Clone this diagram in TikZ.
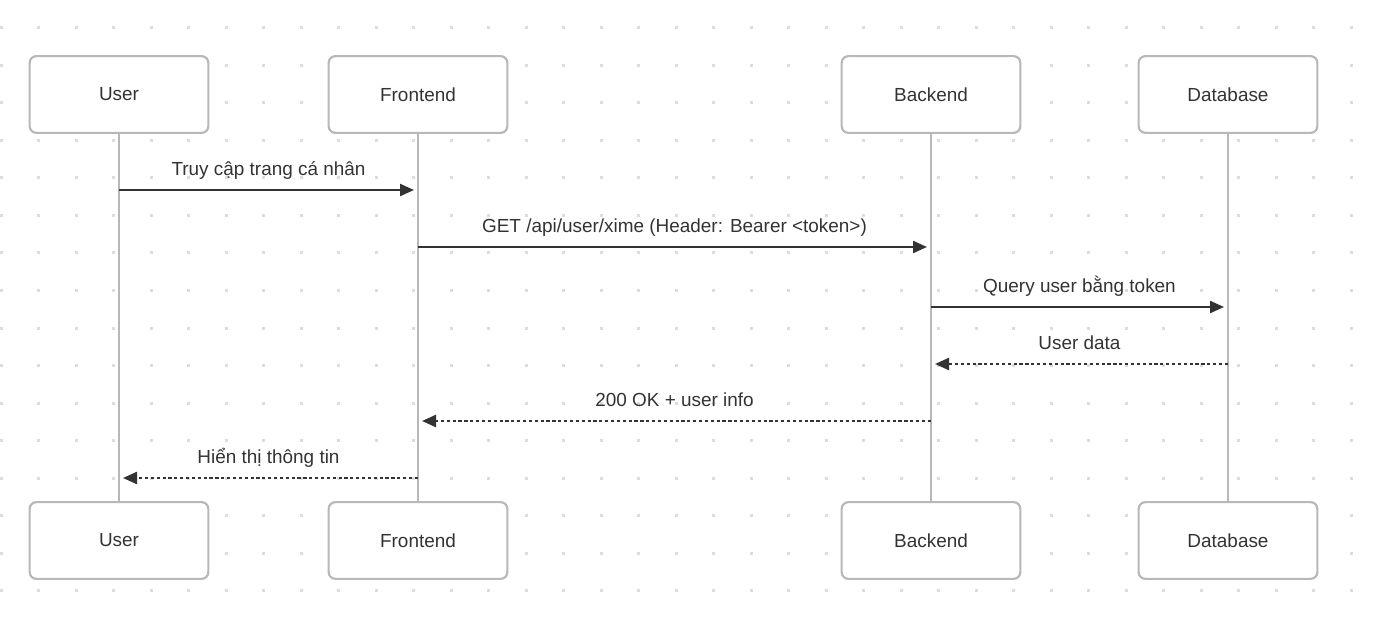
\documentclass[tikz,border=0pt]{standalone}
\usepackage{fontspec}
\setmainfont{Liberation Sans}
\usetikzlibrary{arrows.meta,positioning}
\definecolor{boxgray}{HTML}{B8B8B8}
\definecolor{textdark}{HTML}{333333}
\definecolor{dotgray}{HTML}{DCDCDC}

\begin{document}
\begin{tikzpicture}[
    x=0.75pt, y=-0.75pt,
    every node/.style={font=\fontsize{14.2}{17}\selectfont, text=textdark},
    actorbox/.style={
      rectangle, rounded corners=5pt, draw=boxgray, line width=1.6pt,
      fill=white, minimum width=134pt, minimum height=57.5pt
    },
    lifeline/.style={boxgray, line width=1.7pt},
    msg/.style={-{Triangle[length=10.5pt, width=9pt]}, line width=1.7pt, textdark, shorten >=3pt},
    reply/.style={msg, dash pattern=on 2.4pt off 2pt},
    msglabel/.style={above=10pt, inner sep=0pt, text depth=0pt}
  ]
    \fill[white] (0,0) rectangle (1375,624);
    \useasboundingbox (0,0) rectangle (1375,624);

    % dot grid
    \foreach \i in {0,...,36}
      \foreach \j in {0,...,15}
        \fill[dotgray] (37.5*\i-0.5, 26.5+37.5*\j) rectangle ++(3,3);

    \node[actorbox] (user) at (119,94.5) {User};
    \node[actorbox] (frontend) at (418,94.5) {Frontend};
    \node[actorbox] (backend) at (931,94.5) {Backend};
    \node[actorbox] (database) at (1228,94.5) {Database};

    \node[actorbox] (userB) at (119,540.5) {User};
    \node[actorbox] (frontendB) at (418,540.5) {Frontend};
    \node[actorbox] (backendB) at (931,540.5) {Backend};
    \node[actorbox] (databaseB) at (1228,540.5) {Database};

    \draw[lifeline] (user) -- (userB);
    \draw[lifeline] (frontend) -- (frontendB);
    \draw[lifeline] (backend) -- (backendB);
    \draw[lifeline] (database) -- (databaseB);

    \draw[msg] (user |- 0,190) -- node[msglabel] {Truy cập trang cá nhân} (frontend |- 0,190);
    \draw[msg] (frontend |- 0,247) -- node[msglabel] {GET /api/user/xime (Header: Bearer <token>)} (backend |- 0,247);
    \draw[msg] (backend |- 0,307) -- node[msglabel] {Query user bằng token} (database |- 0,307);
    \draw[reply] (database |- 0,364) -- node[msglabel] {User data} (backend |- 0,364);
    \draw[reply] (backend |- 0,421) -- node[msglabel] {200 OK + user info} (frontend |- 0,421);
    \draw[reply] (frontend |- 0,478) -- node[msglabel] {Hiển thị thông tin} (user |- 0,478);
  \end{tikzpicture}
\end{document}
